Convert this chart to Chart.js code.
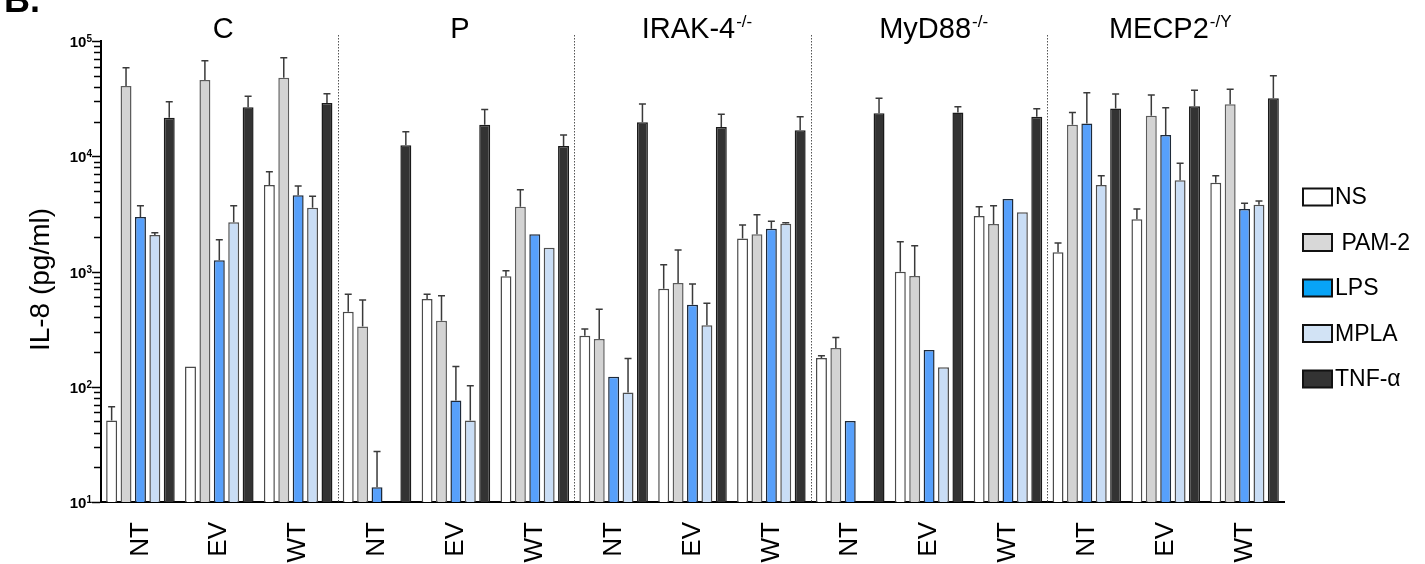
<!DOCTYPE html>
<html>
<head>
<meta charset="utf-8">
<script src="https://cdn.jsdelivr.net/npm/chart.js@4.4.1/dist/chart.umd.min.js"></script>
<style>
  html, body { margin: 0; padding: 0; background: #ffffff; }
  #wrap { width: 1425px; height: 564px; position: relative; overflow: hidden; }
  canvas { display: block; }
</style>
</head>
<body>
<div id="wrap"><canvas id="chart" width="1425" height="564"></canvas></div>
<script>
// Cell lines (panel headings) and their genotype superscripts
const genotypes = ['C', 'P', 'IRAK-4', 'MyD88', 'MECP2'];
const genotypeSup = ['', '', '-/-', '-/-', '-/Y'];
// Transduction conditions inside each cell line
const conditions = ['NT', 'EV', 'WT'];
// Stimulation series
const seriesNames = ['NS', ' PAM-2', 'LPS', 'MPLA', 'TNF-\u03b1'];

// IL-8 (pg/ml), 15 bars per series: C(NT,EV,WT), P(...), IRAK-4(...), MyD88(...), MECP2(...)
const nsValues   = [51, 150, 5640,   448, 577, 908,    277, 710, 1930,    178, 995, 3030,    1470, 2840, 5900];
const nsSD       = [16, 0, 1710,     186, 57, 108,     40, 436, 600,      8, 820, 620,       300, 645, 880];
const pamValues  = [40700, 45900, 48100,  334, 374, 3650,  259, 795, 2100,  217, 914, 2580,  18800, 22500, 28250];
const pamSD      = [17900, 21500, 23500,  232, 243, 1480,  211, 743, 1010,  50, 760, 1140,   5200, 11470, 9850];
const lpsValues  = [2970, 1250, 4580,  13.4, 76, 2100,  122, 515, 2350,  50.5, 208, 4260,  19200, 15300, 3490];
const lpsSD      = [750, 640, 940,     14, 74, 0,       0, 265, 380,     0, 0, 0,           16400, 11080, 425];
const mplaValues = [2075, 2670, 3580,  null, 51, 1610,  89, 341, 2600,  null, 148, 3270,  5640, 6180, 3800];
const mplaSD     = [95, 1050, 910,     0, 51, 0,        87, 189, 50,    0, 0, 0,          1140, 2510, 290];
const tnfValues  = [21600, 26600, 29000,  12450, 18800, 12280,  19700, 17950, 16800,  23600, 24000, 22000,  25900, 27100, 31850];
const tnfSD      = [8100, 6500, 5900,     3880, 6600, 3000,     8700, 5150, 5210,     8200, 2900, 3870,     8800, 10200, 18150];

// Log axis decades
const yTickValues = [10, 100, 1000, 10000, 100000];
const yTickBase = '10';
const yTickExponents = ['1', '2', '3', '4', '5'];
const yTitle = 'IL-8 (pg/ml)';
const panelLetter = 'B.';

const FONT = "'Liberation Sans', Arial, Helvetica, sans-serif";

const categoryLabels = [];
genotypes.forEach(() => conditions.forEach(c => categoryLabels.push(c)));

const seriesValues = [nsValues, pamValues, lpsValues, mplaValues, tnfValues];
const seriesSD = [nsSD, pamSD, lpsSD, mplaSD, tnfSD];
const barFill = ['#ffffff', '#d3d3d3', '#57a0fb', '#c9ddf5', '#333333'];
const barEdge = ['#4a4a4a', '#5c5c5c', '#1e2a3a', '#4f4f4f', '#1a1a1a'];
const legendFill = ['#ffffff', '#d8d8d8', '#08a4f6', '#d2e3f5', '#333333'];

const datasets = seriesNames.map((name, i) => ({
  label: name.trim(),
  data: seriesValues[i],
  backgroundColor: barFill[i],
  borderColor: barEdge[i],
  borderWidth: 1.5,
  borderSkipped: 'start',
  categoryPercentage: 0.913,
  barPercentage: 0.76
}));

// Error bars, separators, headings, log ticks, axis title and legend
const decorations = {
  id: 'decorations',
  beforeDatasetsDraw(chart) {
    const ctx = chart.ctx;
    const xs = chart.scales.x;
    const area = chart.chartArea;
    ctx.save();
    ctx.strokeStyle = '#555555';
    ctx.lineWidth = 1;
    ctx.setLineDash([1.5, 1.5]);
    for (let g = 1; g < genotypes.length; g++) {
      const i = g * conditions.length;
      const x = Math.round((xs.getPixelForValue(i - 1) + xs.getPixelForValue(i)) / 2) + 0.5;
      ctx.beginPath();
      ctx.moveTo(x, 35);
      ctx.lineTo(x, area.bottom);
      ctx.stroke();
    }
    ctx.restore();
  },
  afterDatasetsDraw(chart) {
    const ctx = chart.ctx;
    const ys = chart.scales.y;
    ctx.save();
    ctx.strokeStyle = '#3a3a3a';
    ctx.lineWidth = 1.5;
    seriesValues.forEach((vals, s) => {
      const meta = chart.getDatasetMeta(s);
      meta.data.forEach((bar, j) => {
        const v = vals[j];
        const sd = seriesSD[s][j];
        if (v == null || !sd) return;
        const yTop = ys.getPixelForValue(v + sd);
        ctx.beginPath();
        ctx.moveTo(bar.x, bar.y);
        ctx.lineTo(bar.x, yTop);
        ctx.moveTo(bar.x - 3.5, yTop);
        ctx.lineTo(bar.x + 3.5, yTop);
        ctx.stroke();
      });
    });
    ctx.restore();
  },
  afterDraw(chart) {
    const ctx = chart.ctx;
    const xs = chart.scales.x;
    const ys = chart.scales.y;
    const area = chart.chartArea;
    ctx.save();

    // panel letter
    ctx.fillStyle = '#000';
    ctx.font = `bold 36px ${FONT}`;
    ctx.textAlign = 'left';
    ctx.textBaseline = 'alphabetic';
    ctx.fillText(panelLetter, 4, 12);

    // panel headings with superscripts
    genotypes.forEach((g, k) => {
      const cx = xs.getPixelForValue(k * conditions.length + 1);
      ctx.font = `29px ${FONT}`;
      const wMain = ctx.measureText(g).width;
      ctx.font = `17px ${FONT}`;
      const wSup = genotypeSup[k] ? ctx.measureText(genotypeSup[k]).width : 0;
      const x0 = cx - (wMain + wSup) / 2 + 4;
      ctx.textAlign = 'left';
      ctx.textBaseline = 'alphabetic';
      ctx.font = `29px ${FONT}`;
      ctx.fillText(g, x0, 38);
      if (genotypeSup[k]) {
        ctx.font = `17px ${FONT}`;
        ctx.fillText(genotypeSup[k], x0 + wMain + 1, 27);
      }
    });

    // log ticks on the y axis
    ctx.strokeStyle = '#000';
    ctx.lineWidth = 1.5;
    const axisX = area.left - 1;
    for (let d = 0; d < yTickValues.length; d++) {
      const base = yTickValues[d];
      const y = Math.round(ys.getPixelForValue(base)) + 0.5;
      ctx.beginPath();
      ctx.moveTo(axisX - 8, y);
      ctx.lineTo(axisX, y);
      ctx.stroke();
      if (d < yTickValues.length - 1) {
        for (let m = 2; m <= 9; m++) {
          const ym = Math.round(ys.getPixelForValue(base * m)) + 0.5;
          ctx.beginPath();
          ctx.moveTo(axisX - 6, ym);
          ctx.lineTo(axisX, ym);
          ctx.stroke();
        }
      }
      ctx.font = `bold 10px ${FONT}`;
      const wExp = ctx.measureText(yTickExponents[d]).width;
      ctx.font = `bold 15px ${FONT}`;
      const wBase = ctx.measureText(yTickBase).width;
      const right = axisX - 8;
      ctx.textAlign = 'left';
      ctx.textBaseline = 'middle';
      ctx.fillText(yTickBase, right - wExp - wBase, y + 1);
      ctx.font = `bold 10px ${FONT}`;
      ctx.textBaseline = 'alphabetic';
      ctx.fillText(yTickExponents[d], right - wExp, y + 0.5);
    }

    // y axis title
    ctx.save();
    ctx.translate(41, (area.top + area.bottom) / 2 + 8);
    ctx.rotate(-Math.PI / 2);
    ctx.font = `28px ${FONT}`;
    ctx.textAlign = 'center';
    ctx.textBaseline = 'middle';
    ctx.fillStyle = '#000';
    ctx.fillText(yTitle, 0, 0);
    ctx.restore();

    // legend
    const lx = 1303, ly0 = 197, step = 45.5, bw = 29, bh = 17;
    seriesNames.forEach((name, i) => {
      const cy = ly0 + i * step;
      ctx.fillStyle = legendFill[i];
      ctx.fillRect(lx, cy - bh / 2, bw, bh);
      ctx.strokeStyle = '#111';
      ctx.lineWidth = 2;
      ctx.strokeRect(lx, cy - bh / 2, bw, bh);
      ctx.fillStyle = '#000';
      ctx.font = `23px ${FONT}`;
      ctx.textAlign = 'left';
      ctx.textBaseline = 'middle';
      ctx.fillText(name, lx + bw + 3, cy + 1);
    });

    ctx.restore();
  }
};

new Chart(document.getElementById('chart'), {
  type: 'bar',
  data: { labels: categoryLabels, datasets },
  options: {
    responsive: false,
    devicePixelRatio: 1,
    animation: false,
    layout: { padding: { top: 41, right: 141, left: 0, bottom: 0 } },
    plugins: { legend: { display: false }, tooltip: { enabled: false } },
    scales: {
      x: {
        type: 'category',
        z: 1,
        grid: { display: false, drawTicks: false },
        border: { display: true, color: '#000', width: 2 },
        ticks: {
          autoSkip: false,
          maxRotation: 90,
          minRotation: 90,
          padding: 20,
          color: '#000',
          font: { family: FONT, size: 26 }
        },
        afterFit(scale) { scale.height = 62; }
      },
      y: {
        type: 'logarithmic',
        min: 10,
        max: 100000,
        grid: { display: false, drawTicks: false },
        border: { display: true, color: '#000', width: 2 },
        ticks: { display: false },
        afterFit(scale) { scale.width = 101; }
      }
    }
  },
  plugins: [decorations]
});
</script>
</body>
</html>
